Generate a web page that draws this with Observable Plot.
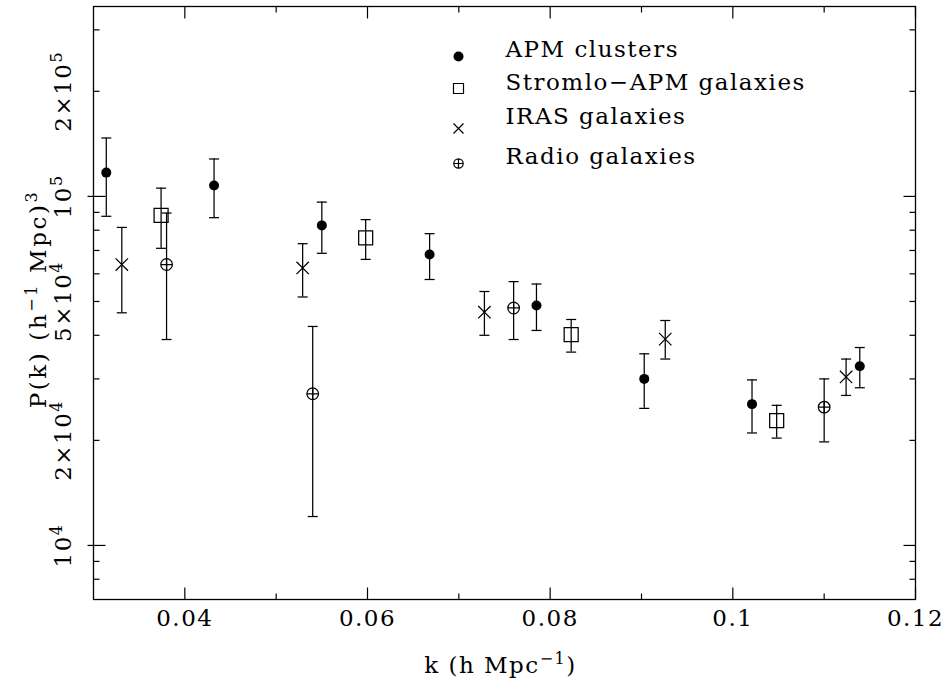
<!DOCTYPE html>
<html><head><meta charset="utf-8">
<script src="https://cdn.jsdelivr.net/npm/d3@7"></script>
<script src="https://cdn.jsdelivr.net/npm/@observablehq/plot@0.6"></script>
<style>
body{margin:0;background:#fff}
#chart{width:946px;height:688px}
#chart svg text{font-family:"DejaVu Serif",serif !important;letter-spacing:1.5px}
#chart svg text.ttl{letter-spacing:2.6px}
</style>
</head><body><div id="chart"></div>
<script>
// ---- data ----
const seriesNames = ["APM clusters", "Stromlo\u2212APM galaxies", "IRAS galaxies", "Radio galaxies"];

const apmK  = [0.0314, 0.0432, 0.0550, 0.0668, 0.0785, 0.0903, 0.1021, 0.1139];
const apmP  = [117000, 107500, 82600, 68200, 48700, 30000, 25400, 32600];
const apmHi = [147000, 128000, 96300, 78200, 56100, 35400, 29800, 36900];
const apmLo = [87700, 86900, 68700, 57800, 41300, 24700, 21000, 28300];

const strK  = [0.0374, 0.0598, 0.0823, 0.1048];
const strP  = [88200, 76000, 40200, 22800];
const strHi = [105600, 85800, 44400, 25200];
const strLo = [71000, 66000, 35800, 20300];

const irasK  = [0.0331, 0.0529, 0.0728, 0.0926, 0.1124];
const irasP  = [63800, 62400, 46600, 39000, 30400];
const irasHi = [81500, 73200, 53400, 44100, 34200];
const irasLo = [46400, 51500, 40000, 34200, 26900];

const radK  = [0.0380, 0.0540, 0.0760, 0.1100];
const radP  = [63800, 27200, 47900, 24900];
const radHi = [89600, 42400, 57000, 30000];
const radLo = [38900, 12100, 38900, 19800];

const xMajor = [0.04, 0.06, 0.08, 0.1, 0.12];
const xMinor = [0.05, 0.07, 0.09, 0.11];
const xTickLabels = ["0.04", "0.06", "0.08", "0.1", "0.12"];
const yDecades = [1e4, 1e5];
const yMinor = [8e3, 9e3, 2e4, 3e4, 4e4, 5e4, 6e4, 7e4, 8e4, 9e4, 2e5, 3e5];
const yLabelValues = [1e4, 2e4, 5e4, 1e5, 2e5];
const yTickLabels = ["10^{4}", "2\u00d710^{4}", "5\u00d710^{4}", "10^{5}", "2\u00d710^{5}"];
const xTitle = "k (h Mpc^{\u22121})";
const yTitle = "P(k) (h^{\u22121} Mpc)^{3}";

// ---- helpers ----
const rows = (k, p, hi, lo) => k.map((kk, i) => ({k: kk, p: p[i], hi: hi[i], lo: lo[i]}));
const R = s => Math.sqrt(s / Math.PI);
const capSym = {draw(c, s) { const r = R(s); c.moveTo(-r, 0); c.lineTo(r, 0); }};
const squareSym = {draw(c, s) { const r = R(s); c.moveTo(-r, -r); c.lineTo(r, -r); c.lineTo(r, r); c.lineTo(-r, r); c.closePath(); }};
const timesSym = {draw(c, s) { const r = R(s); c.moveTo(-r, -r); c.lineTo(r, r); c.moveTo(-r, r); c.lineTo(r, -r); }};
const oplusSym = {draw(c, s) { const r = R(s); c.moveTo(r, 0); c.arc(0, 0, r, 0, 2 * Math.PI); c.moveTo(-r, 0); c.lineTo(r, 0); c.moveTo(0, -r); c.lineTo(0, r); }};
const lineSym = (x0, y0, x1, y1) => ({draw(c, s) { const r = R(s); c.moveTo(x0 * r, y0 * r); c.lineTo(x1 * r, y1 * r); }});

const ink = "#000";
const lw = 1.25;

function series(data, pointSym, pointR, filled) {
  return [
    Plot.ruleX(data, {x: "k", y1: "lo", y2: "hi", stroke: ink, strokeWidth: lw}),
    Plot.dot(data, {x: "k", y: "hi", symbol: capSym, r: 5, stroke: ink, fill: "none", strokeWidth: lw}),
    Plot.dot(data, {x: "k", y: "lo", symbol: capSym, r: 5, stroke: ink, fill: "none", strokeWidth: lw}),
    filled
      ? Plot.dot(data, {x: "k", y: "p", r: pointR, fill: ink, stroke: "none"})
      : Plot.dot(data, {x: "k", y: "p", symbol: pointSym, r: pointR, stroke: ink, fill: "none", strokeWidth: lw})
  ];
}

// legend layout (pixel offsets from frame top-left)
const legSymX = 365, legTextX = 412;
const legSymY = [50, 82, 122, 157];
const legTextY = [43.5, 76, 110.5, 150.5];
const legSyms = [null, squareSym, timesSym, oplusSym];
const legR = [5, 5, 5, 4.7];
const legendMarks = [];
seriesNames.forEach((name, i) => {
  legendMarks.push(i === 0
    ? Plot.dot([0], {frameAnchor: "top-left", dx: legSymX, dy: legSymY[i], r: legR[i], fill: ink, stroke: "none"})
    : Plot.dot([0], {frameAnchor: "top-left", dx: legSymX, dy: legSymY[i], r: legR[i], symbol: legSyms[i], stroke: ink, fill: "none", strokeWidth: 1.2}));
  legendMarks.push(Plot.text([name], {frameAnchor: "top-left", dx: legTextX, dy: legTextY[i], textAnchor: "start", lineAnchor: "middle", fill: ink}));
});

const tickW = 1.2;
const chart = Plot.plot({
  width: 946, height: 688,
  marginLeft: 93, marginRight: 31, marginTop: 6, marginBottom: 89,
  x: {domain: [0.03, 0.12], axis: null},
  y: {type: "log", domain: [7000, 350000], axis: null},
  style: {fontFamily: "DejaVu Serif", fontSize: "23px", background: "#fff", color: "#000"},
  marks: [
    Plot.frame({stroke: ink, strokeWidth: 1.3}),
    // bottom / top ticks
    Plot.dot(xMajor, {x: d => d, frameAnchor: "bottom", symbol: lineSym(0, 0, 0, -1), r: 12, stroke: ink, strokeWidth: tickW}),
    Plot.dot(xMinor, {x: d => d, frameAnchor: "bottom", symbol: lineSym(0, 0, 0, -1), r: 6, stroke: ink, strokeWidth: tickW}),
    Plot.dot(xMajor, {x: d => d, frameAnchor: "top", symbol: lineSym(0, 0, 0, 1), r: 12, stroke: ink, strokeWidth: tickW}),
    Plot.dot(xMinor, {x: d => d, frameAnchor: "top", symbol: lineSym(0, 0, 0, 1), r: 6, stroke: ink, strokeWidth: tickW}),
    // left / right ticks
    Plot.dot(yDecades, {y: d => d, frameAnchor: "left", symbol: lineSym(-0.5, 0, 1, 0), r: 12, stroke: ink, strokeWidth: tickW}),
    Plot.dot(yMinor, {y: d => d, frameAnchor: "left", symbol: lineSym(0, 0, 1, 0), r: 6, stroke: ink, strokeWidth: tickW}),
    Plot.dot(yDecades, {y: d => d, frameAnchor: "right", symbol: lineSym(0, 0, -1, 0), r: 12, stroke: ink, strokeWidth: tickW}),
    Plot.dot(yMinor, {y: d => d, frameAnchor: "right", symbol: lineSym(0, 0, -1, 0), r: 6, stroke: ink, strokeWidth: tickW}),
    // tick labels
    Plot.text(xMajor, {x: d => d, text: (d, i) => xTickLabels[i], frameAnchor: "bottom", dy: 19, lineAnchor: "middle", fill: ink}),
    Plot.text(yLabelValues, {y: d => d, text: (d, i) => yTickLabels[i], frameAnchor: "left", dx: -30, rotate: -90, lineAnchor: "middle", textAnchor: "middle", fill: ink}),
    // axis titles
    Plot.text([xTitle], {frameAnchor: "bottom", dx: -4, dy: 66, lineAnchor: "middle", fill: ink, className: "ttlx"}),
    Plot.text([yTitle], {frameAnchor: "left", dx: -55, dy: -4, rotate: -90, lineAnchor: "middle", textAnchor: "middle", fill: ink, className: "ttly"}),
    // data
    ...series(rows(radK, radP, radHi, radLo), oplusSym, 5.8, false),
    ...series(rows(irasK, irasP, irasHi, irasLo), timesSym, 6.2, false),
    ...series(rows(strK, strP, strHi, strLo), squareSym, 7, false),
    ...series(rows(apmK, apmP, apmHi, apmLo), null, 5, true),
    ...legendMarks
  ]
});

// turn ^{...} into raised tspans
const NS = "http://www.w3.org/2000/svg";
chart.querySelectorAll("text").forEach(t => {
  const s = t.textContent;
  if (!s.includes("^{")) return;
  const parts = s.split(/\^\{([^}]*)\}/);
  t.textContent = "";
  let raised = false;
  parts.forEach((p, i) => {
    if (i % 2 === 1) {
      const ts = document.createElementNS(NS, "tspan");
      ts.setAttribute("dy", "-9");
      ts.setAttribute("font-size", "16");
      ts.textContent = p;
      t.appendChild(ts);
      raised = true;
    } else if (p) {
      const ts = document.createElementNS(NS, "tspan");
      if (raised) ts.setAttribute("dy", "9");
      ts.textContent = p;
      t.appendChild(ts);
      raised = false;
    }
  });
});
chart.querySelectorAll("g.ttly text").forEach(t => t.classList.add("ttl"));
document.getElementById("chart").appendChild(chart);
</script>
</body></html>
